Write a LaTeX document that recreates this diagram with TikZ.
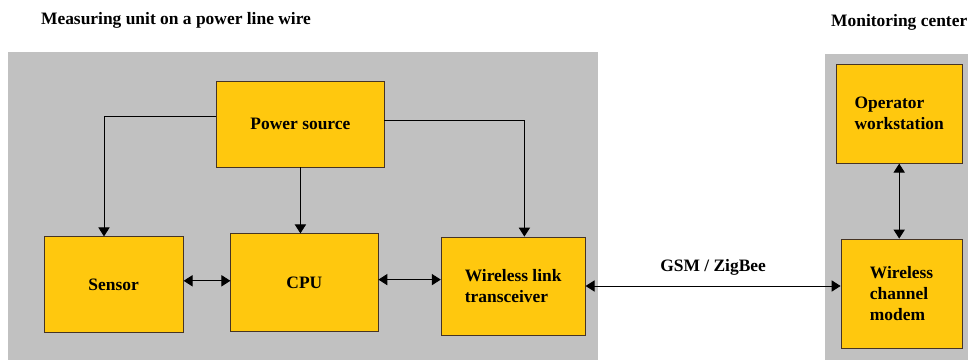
\documentclass[tikz,border=0pt]{standalone}
\usepackage{fontspec}
\setmainfont{Liberation Serif}
\usetikzlibrary{arrows.meta}
\definecolor{boxyellow}{RGB}{255,200,14}
\definecolor{areagray}{RGB}{193,193,193}
\definecolor{boxedge}{RGB}{70,52,36}
\begin{document}
\begin{tikzpicture}[font=\fontsize{12.4}{14.9}\selectfont\bfseries,
    >={Triangle[width=8pt,length=6.4pt]},x=1cm,y=1cm]
    \tikzset{
        area/.style={fill=areagray,draw=none},
        unit/.style={
            draw=boxedge,line width=0.6pt,fill=boxyellow,
            align=left,inner sep=0pt
        },
        link/.style={->,line width=0.7pt},
        duplex/.style={<->,line width=0.7pt}
    }

    \useasboundingbox (0,0) rectangle (24.25,9);

    \fill[area] (0.20,0) rectangle (14.95,7.70);
    \fill[area] (20.62,0) rectangle (24.20,7.65);

    \node (title) at (4.40,8.50) {Measuring unit on a power line wire};
    \node (center) at (22.48,8.45) {Monitoring center};

    \node[unit,minimum width=4.18cm,minimum height=2.15cm] (power) at (7.51,5.90)
        {Power source};
    \node[unit,minimum width=3.48cm,minimum height=2.40cm] (sensor) at (2.84,1.88)
        {Sensor};
    \node[unit,minimum width=3.68cm,minimum height=2.45cm] (cpu) at (7.61,1.93)
        {CPU};
    \node[unit,minimum width=3.60cm,minimum height=2.45cm] (radio) at (12.83,1.85)
        {Wireless link\\transceiver};
    \node[unit,minimum width=3.15cm,minimum height=2.48cm] (operator) at (22.48,6.16)
        {Operator\\workstation};
    \node[unit,minimum width=3.03cm,minimum height=2.73cm] (modem) at (22.54,1.66)
        {Wireless\\channel\\modem};

    \draw[link] ([yshift=0.18cm]power.west) -| ([xshift=-0.24cm]sensor.north);
    \draw[link] (power.south) -- (power.south |- cpu.north);
    \draw[link] ([yshift=0.10cm]power.east) -| ([xshift=0.28cm]radio.north);

    \draw[duplex] ([yshift=0.10cm]sensor.east) -- ([yshift=0.10cm]sensor.east -| cpu.west);
    \draw[duplex] ([yshift=0.08cm]cpu.east) -- ([yshift=0.08cm]cpu.east -| radio.west);
    \draw[duplex] (radio.east) -- (radio.east -| modem.west)
        node[midway,above=0.26cm,inner sep=0pt] (gsm) {GSM / ZigBee};
    \draw[duplex] (operator.south) -- (operator.south |- modem.north);
\end{tikzpicture}
\end{document}
